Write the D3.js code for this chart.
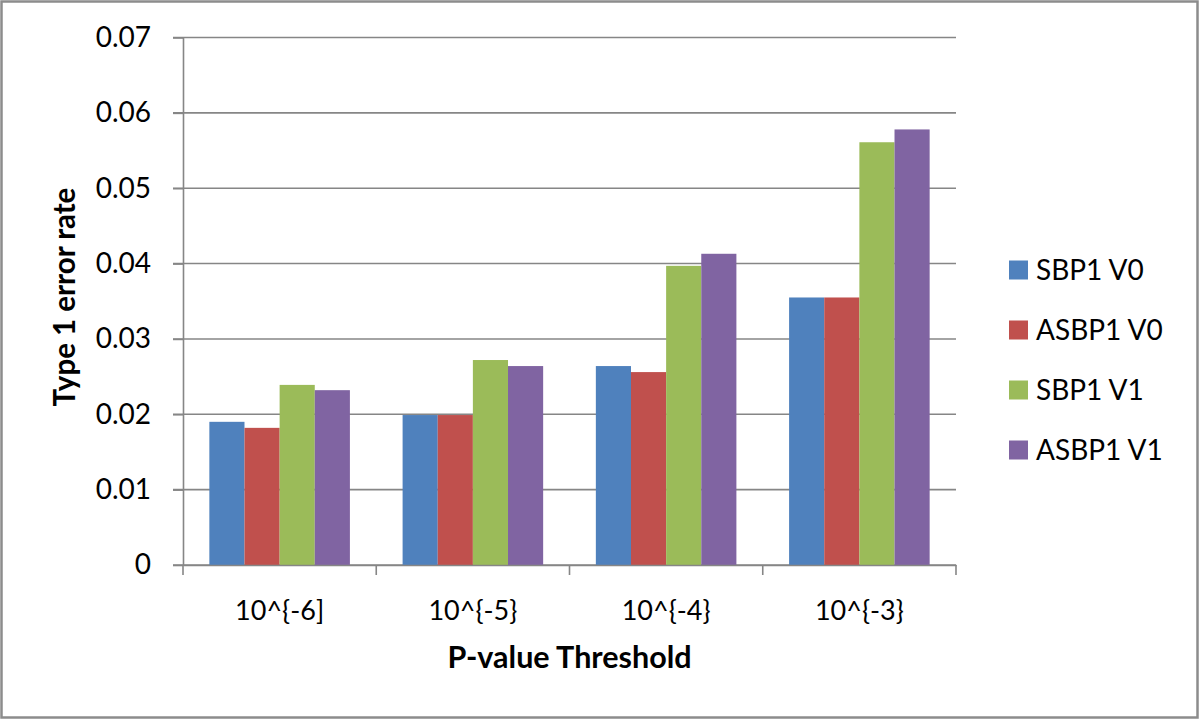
<!DOCTYPE html>
<html>
<head>
<meta charset="utf-8">
<script src="https://cdn.jsdelivr.net/npm/d3@7"></script>
<style>
  body { margin: 0; background: #fff; }
  svg { display: block; font-family: Lato, "Open Sans", sans-serif; }
  svg text { font-family: Lato, "Open Sans", sans-serif; }
</style>
</head>
<body>
<div class="chartPlaceholder"></div>
<script>
const WIDTH = 1200;
const HEIGHT = 720;
const PLOT = { LEFT: 183, RIGHT: 956, TOP: 37.5, BOTTOM: 565 };

// data
const categories = ['10^{-6]', '10^{-5}', '10^{-4}', '10^{-3}'];
const seriesNames = ['SBP1 V0', 'ASBP1 V0', 'SBP1 V1', 'ASBP1 V1'];
const sbp1V0 = [0.0190, 0.0199, 0.0264, 0.0355];
const asbp1V0 = [0.0182, 0.0199, 0.0256, 0.0355];
const sbp1V1 = [0.0239, 0.0272, 0.0397, 0.0561];
const asbp1V1 = [0.0232, 0.0264, 0.0413, 0.0578];
const yTicks = [0, 0.01, 0.02, 0.03, 0.04, 0.05, 0.06, 0.07];
const yTickLabels = ['0', '0.01', '0.02', '0.03', '0.04', '0.05', '0.06', '0.07'];
const colors = ['#4F81BD', '#C0504D', '#9BBB59', '#8064A2'];

const seriesValues = [sbp1V0, asbp1V0, sbp1V1, asbp1V1];
const GRID = '#868686';
const FONT = 'Lato, "Open Sans", sans-serif';

let svg = d3
    .select('.chartPlaceholder')
    .append('svg')
    .attr('width', WIDTH)
    .attr('height', HEIGHT);

// chart border
svg.append('rect')
    .attr('x', 1.5).attr('y', 1.5)
    .attr('width', WIDTH - 4).attr('height', HEIGHT - 4)
    .attr('fill', '#fff')
    .attr('stroke', '#8c8c8c')
    .attr('stroke-width', 2.5);

// scales
let xScale = d3.scaleBand()
    .domain(categories)
    .range([PLOT.LEFT, PLOT.RIGHT])
    .paddingInner(0.2727)
    .paddingOuter(0.13636);

let xSeries = d3.scaleBand()
    .domain(seriesNames)
    .range([0, xScale.bandwidth()]);

let yScale = d3.scaleLinear()
    .domain([0, 0.07])
    .range([PLOT.BOTTOM, PLOT.TOP]);

// gridlines
svg.append('g')
    .selectAll('line')
    .data(yTicks)
    .enter()
    .append('line')
    .attr('x1', PLOT.LEFT - 10)
    .attr('x2', PLOT.RIGHT)
    .attr('y1', d => yScale(d))
    .attr('y2', d => yScale(d))
    .attr('stroke', GRID)
    .attr('stroke-width', 1.6);

// bars
let groups = svg.append('g')
    .selectAll('g')
    .data(seriesValues)
    .enter()
    .append('g')
    .attr('fill', (d, i) => colors[i]);

groups.each(function (vals, si) {
    d3.select(this)
        .selectAll('rect')
        .data(vals)
        .enter()
        .append('rect')
        .attr('x', (d, ci) => xScale(categories[ci]) + xSeries(seriesNames[si]))
        .attr('y', d => yScale(d))
        .attr('width', xSeries.bandwidth())
        .attr('height', d => yScale(0) - yScale(d));
});

// y axis
let yAxis = d3.axisLeft(yScale)
    .tickValues(yTicks)
    .tickFormat((d, i) => yTickLabels[i])
    .tickSizeInner(10)
    .tickSizeOuter(0)
    .tickPadding(22);

let yAxisG = svg.append('g')
    .attr('transform', `translate(${PLOT.LEFT}, 0)`)
    .call(yAxis)
    .attr('font-family', FONT);

yAxisG.select('.domain').attr('stroke', GRID).attr('stroke-width', 1.6);
yAxisG.selectAll('.tick line').attr('stroke', GRID).attr('stroke-width', 1.6);
yAxisG.selectAll('.tick text')
    .attr('fill', '#000')
    .style('font-size', '28px');

// x axis
let xAxis = d3.axisBottom(xScale).tickSize(0).tickSizeOuter(0).tickPadding(36);

let xAxisG = svg.append('g')
    .attr('transform', `translate(0, ${PLOT.BOTTOM})`)
    .call(xAxis)
    .attr('font-family', FONT);

xAxisG.select('.domain').attr('stroke', GRID).attr('stroke-width', 1.6);
xAxisG.selectAll('.tick text')
    .attr('fill', '#000')
    .style('font-size', '27px');

// category boundary ticks
xAxisG.append('g')
    .selectAll('line')
    .data(d3.range(categories.length + 1))
    .enter()
    .append('line')
    .attr('x1', i => PLOT.LEFT + i * xScale.step())
    .attr('x2', i => PLOT.LEFT + i * xScale.step())
    .attr('y1', 0)
    .attr('y2', 10)
    .attr('stroke', GRID)
    .attr('stroke-width', 1.6);

// axis titles
svg.append('text')
    .attr('transform', `translate(${(PLOT.LEFT + PLOT.RIGHT) / 2}, 668)`)
    .attr('text-anchor', 'middle')
    .style('font-size', '30.5px')
    .style('font-weight', 'bold')
    .text('P-value Threshold');

svg.append('text')
    .attr('transform', 'translate(75, 297) rotate(-90)')
    .attr('text-anchor', 'middle')
    .style('font-size', '29.5px')
    .style('font-weight', 'bold')
    .text('Type 1 error rate');

// legend
let legend = svg.append('g')
    .selectAll('g')
    .data(seriesNames)
    .enter()
    .append('g')
    .attr('transform', (d, i) => `translate(1009, ${270 + i * 60})`);

legend.append('rect')
    .attr('x', 0)
    .attr('y', -9.5)
    .attr('width', 19)
    .attr('height', 19)
    .attr('fill', (d, i) => colors[i]);

legend.append('text')
    .attr('x', 27)
    .attr('y', 10)
    .style('font-size', '28px')
    .text(d => d);
</script>
</body>
</html>
